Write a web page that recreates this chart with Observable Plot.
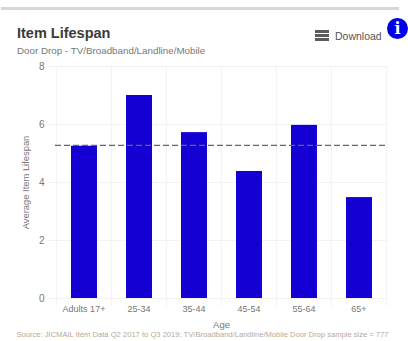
<!DOCTYPE html>
<html>
<head>
<meta charset="utf-8">
<script src="https://cdn.jsdelivr.net/npm/d3@7"></script>
<script src="https://cdn.jsdelivr.net/npm/@observablehq/plot@0.6"></script>
<style>
  html, body { margin: 0; padding: 0; background: #fff; overflow: hidden; }
  body { width: 408px; height: 341px; position: relative; font-family: "Liberation Sans", Arial, sans-serif; }
  .abs { position: absolute; white-space: nowrap; }
  #rule { left: 1px; top: 7px; width: 398px; height: 2.5px; background: #d3d6df; }
  #title { left: 17px; top: 24px; font-size: 14.5px; line-height: 18px; font-weight: bold; color: #3a3a3a; }
  #subtitle { left: 17px; top: 45px; font-size: 9.8px; line-height: 12px; color: #777; }
  #download { left: 335px; top: 30px; font-size: 10.5px; line-height: 13px; color: #555; }
  #menu { left: 315px; top: 30px; width: 14px; height: 11px; }
  #menu i { display: block; height: 3px; background: #5c5c5c; margin-bottom: 1px; }
  #info { left: 387px; top: 18px; width: 21px; height: 21px; border-radius: 50%; background: #0000e6; color: #fff;
          font: bold 16px/21px "DejaVu Serif", serif; text-align: center; }
  #chart { position: absolute; left: 0; top: 0; }
</style>
</head>
<body>
<div id="chart"></div>
<div class="abs" id="rule"></div>
<div class="abs" id="title">Item Lifespan</div>
<div class="abs" id="subtitle">Door Drop - TV/Broadband/Landline/Mobile</div>
<div class="abs" id="menu"><i></i><i></i><i></i></div>
<div class="abs" id="download">Download</div>
<div class="abs" id="info">i</div>
<script>
const ages = ["Adults 17+", "25-34", "35-44", "45-54", "55-64", "65+"];
const lifespan = [5.25, 7.0, 5.72, 4.38, 5.97, 3.48];
const average = [5.28];
const yTicks = [0, 2, 4, 6, 8];
const source = "Source: JICMAIL Item Data Q2 2017 to Q3 2019; TV/Broadband/Landline/Mobile Door Drop sample size = 777";

const rows = ages.map((age, i) => ({age, value: lifespan[i]}));
const grid = "#f2f2f2";
const left = 55, right = 21;
const band = (408 - left - right) / ages.length;

const plot = Plot.plot({
  width: 408,
  height: 341,
  marginLeft: left,
  marginRight: right,
  marginTop: 66,
  marginBottom: 43,
  style: {fontFamily: '"Liberation Sans", Arial, sans-serif', background: "transparent", overflow: "visible"},
  x: {domain: ages, padding: 0, label: null},
  y: {domain: [0, 8], label: null},
  marks: [
    // Horizontal grid with tick stubs reaching toward the labels
    Plot.ruleY(yTicks, {stroke: grid, insetLeft: -7}),
    // Band boundaries with stubs reaching below the baseline
    Plot.ruleX(ages, {x: d => d, dx: -band / 2, stroke: grid, insetBottom: -8}),
    Plot.ruleX(ages.slice(-1), {x: d => d, dx: band / 2, stroke: grid, insetBottom: -8}),
    Plot.barY(rows, {x: "age", y: "value", fill: "#1500d4", insetLeft: 15, insetRight: 14}),
    Plot.ruleY(average, {stroke: "#666", strokeWidth: 1.2, strokeDasharray: "6,3"}),
    Plot.axisY({ticks: yTicks, tickSize: 0, tickPadding: 11, fontSize: 10, color: "#777",
                label: null}),
    Plot.axisX({tickSize: 0, tickPadding: 7, fontSize: 9, color: "#777", label: null}),
    Plot.text(["Average Item Lifespan"], {
      frameAnchor: "left", dx: -30, rotate: -90, textAnchor: "middle", fontSize: 9.4, fill: "#777"
    }),
    Plot.text(["Age"], {
      frameAnchor: "bottom", dy: 29, fontSize: 9.5, fill: "#777"
    }),
    Plot.text([source], {
      frameAnchor: "bottom", dx: -19, dy: 38, fontSize: 7.6, fill: "#b3ab9c"
    })
  ]
});
document.getElementById("chart").append(plot);
</script>
</body>
</html>
